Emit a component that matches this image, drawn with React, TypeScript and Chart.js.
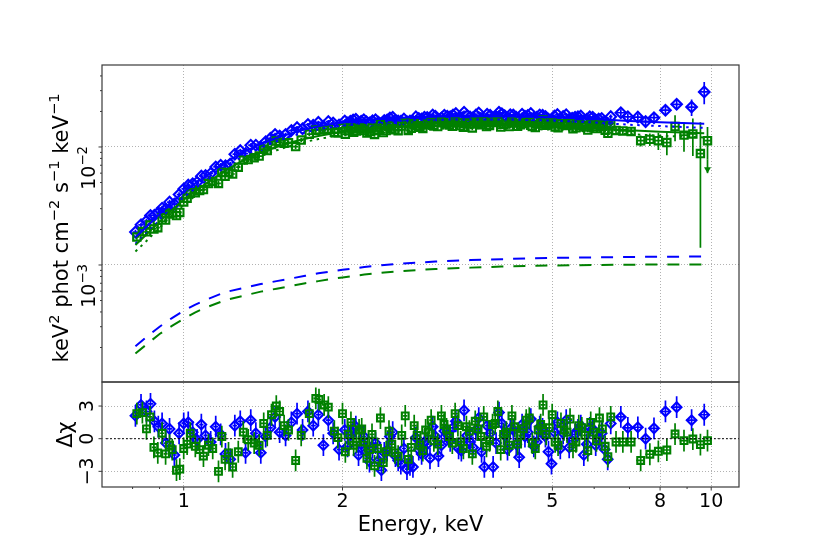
import React, { useEffect, useRef } from "react";
import { Chart, registerables } from "chart.js";

Chart.register(...registerables);

const FONT = '"DejaVu Sans", sans-serif';
const BLUE = "#0000ff";
const GREEN = "#008000";
const GRID = "rgba(170,170,170,0.9)";
const FRAME = "#3a3a3a";

// flux arrays are in units of 1e-3 keV^2 phot cm^-2 s^-1 keV^-1
const FLUX_UNIT = 1e-3;
// residuals are in sigma units, so every residual has an error of 1
const RESID_ERR = 1;

// axes
const xRange = [0.713, 11.29];
const fluxRange = [1.02e-4, 0.0495];
const residRange = [-4.44, 5.21];
const xMajor = [1, 2, 5, 8, 10];
const xMinor = [0.8, 0.9, 3, 4, 6, 7, 9];
const fluxMajor = [1e-3, 1e-2];
const fluxMinor = [
  2e-4, 3e-4, 4e-4, 5e-4, 6e-4, 7e-4, 8e-4, 9e-4,
  2e-3, 3e-3, 4e-3, 5e-3, 6e-3, 7e-3, 8e-3, 9e-3,
  2e-2, 3e-2, 4e-2,
];
const residMajor = [-3, 0, 3];
const fluxTickLabels = [
  { value: 1e-2, base: "10", exp: "\u22122" },
  { value: 1e-3, base: "10", exp: "\u22123" },
];
const residTickLabels = ["\u22123", "0", "3"];

// model curves
const modelEnergy = [0.81, 0.85, 0.9, 0.95, 1.0, 1.05, 1.1, 1.2, 1.3, 1.4, 1.5, 1.6, 1.7, 1.8, 1.9, 2.0, 2.2, 2.4, 2.7, 3.0, 3.5, 4.0, 5.0, 6.0, 7.0, 8.0, 9.7];
const blueTotal = [1.72, 2.1, 2.7, 3.4, 4.15, 4.9, 5.65, 7.4, 9.1, 10.6, 11.9, 13.1, 14.1, 15.0, 15.6, 16.1, 16.9, 17.4, 17.9, 18.1, 18.2, 18.25, 17.9, 17.3, 16.6, 16.2, 15.7];
const blueDotted = [1.515, 1.855, 2.4, 3.045, 3.74, 4.44, 5.145, 6.81, 8.46, 9.91, 11.17, 12.33, 13.29, 14.15, 14.72, 15.19, 15.94, 16.4, 16.86, 17.03, 17.1, 17.13, 16.75, 16.14, 15.43, 15.03, 14.52];
const blueDashed = [0.205, 0.245, 0.3, 0.355, 0.41, 0.46, 0.505, 0.59, 0.64, 0.69, 0.73, 0.77, 0.81, 0.85, 0.88, 0.91, 0.96, 1.0, 1.04, 1.07, 1.1, 1.12, 1.15, 1.16, 1.17, 1.175, 1.18];
const greenTotal = [1.48, 1.81, 2.33, 2.93, 3.58, 4.22, 4.87, 6.35, 7.75, 8.95, 10.0, 10.95, 11.75, 12.4, 12.95, 13.4, 14.05, 14.55, 15.0, 15.2, 15.35, 15.35, 15.0, 14.45, 13.85, 13.45, 13.05];
const greenDotted = [1.302, 1.598, 2.07, 2.625, 3.23, 3.825, 4.435, 5.845, 7.2, 8.355, 9.37, 10.285, 11.05, 11.67, 12.19, 12.615, 13.22, 13.685, 14.1, 14.275, 14.4, 14.38, 14.01, 13.45, 12.845, 12.44, 12.04];
const greenDashed = [0.178, 0.212, 0.26, 0.305, 0.35, 0.395, 0.435, 0.505, 0.55, 0.595, 0.63, 0.665, 0.7, 0.73, 0.76, 0.785, 0.83, 0.865, 0.9, 0.925, 0.95, 0.97, 0.99, 1.0, 1.005, 1.01, 1.01];

// blue spectrum (diamonds); last block holds the interleaved 2-6.5 keV bins
const blueEnergy = [
  0.81, 0.83, 0.85, 0.865, 0.88, 0.895, 0.91, 0.925, 0.94, 0.96,
  0.98, 1.0, 1.02, 1.04, 1.06, 1.08, 1.1, 1.125, 1.15, 1.175,
  1.2, 1.225, 1.25, 1.28, 1.31, 1.34, 1.37, 1.4, 1.43, 1.46,
  1.49, 1.52, 1.56, 1.6, 1.64, 1.68, 1.72, 1.76, 1.8, 1.84,
  1.88, 1.92, 1.97, 2.02, 2.07, 2.12, 2.17, 2.22, 2.28, 2.34,
  2.4, 2.46, 2.52, 2.58, 2.65, 2.72, 2.79, 2.86, 2.93, 3.0,
  3.08, 3.16, 3.24, 3.32, 3.4, 3.49, 3.58, 3.67, 3.76, 3.86,
  3.96, 4.06, 4.16, 4.27, 4.38, 4.49, 4.61, 4.73, 4.85, 4.98,
  5.11, 5.24, 5.38, 5.52, 5.66, 5.81, 5.96, 6.12, 6.28, 6.45,
  6.74, 6.95, 7.26, 7.51, 7.79, 8.19, 8.6, 9.18, 9.7,
  2.045, 2.095, 2.145, 2.195, 2.25, 2.31, 2.37, 2.43, 2.49, 2.55,
  2.615, 2.685, 2.755, 2.825, 2.895, 2.965, 3.04, 3.12, 3.2, 3.28,
  3.36, 3.445, 3.535, 3.625, 3.715, 3.81, 3.91, 4.01, 4.11, 4.215,
  4.325, 4.435, 4.55, 4.67, 4.79, 4.915, 5.045, 5.175, 5.31, 5.45,
  5.59, 5.735, 5.885, 6.04, 6.2, 6.365,
];
const blueFlux = [
  1.9, 2.19, 2.36, 2.63, 2.64, 2.77, 3.03, 2.98, 3.41, 3.28,
  3.95, 4.41, 4.75, 4.88, 5.03, 5.66, 5.73, 5.97, 6.77, 6.99,
  6.94, 7.16, 8.69, 9.31, 8.78, 10.36, 10.36, 10.05, 11.06, 11.82,
  12.74, 12.38, 12.75, 13.79, 14.58, 14.29, 15.51, 15.28, 16.15, 14.95,
  16.4, 15.94, 15.38, 16.59, 16.54, 17.15, 16.54, 16.34, 16.7, 16.2,
  16.73, 17.6, 16.78, 16.47, 16.32, 16.51, 17.43, 17.84, 17.09, 18.23,
  17.57, 18.22, 18.63, 17.46, 19.7, 17.91, 18.61, 17.36, 18.9, 16.51,
  19.71, 18.39, 18.75, 17.83, 18.94, 18.46, 17.61, 18.69, 18.08, 16.46,
  18.79, 18.09, 17.2, 17.85, 18.29, 17.14, 17.88, 17.28, 16.33, 18.07,
  19.5, 18.0, 17.9, 16.4, 17.7, 20.5, 23.0, 21.8, 29.3,
  15.96, 16.95, 15.95, 17.0, 15.96, 16.97, 15.82, 16.9, 17.87, 16.59,
  17.27, 16.58, 17.99, 17.23, 17.77, 18.68, 17.1, 18.56, 18.01, 19.17,
  17.47, 18.38, 17.69, 19.42, 16.56, 18.55, 17.98, 19.14, 17.57, 18.68,
  17.05, 18.22, 19.19, 17.81, 18.53, 17.17, 18.25, 17.24, 18.77, 17.51,
  18.04, 16.54, 17.98, 16.91, 17.46, 15.91,
];
const blueFluxErr = [
  0.086, 0.095, 0.105, 0.114, 0.122, 0.13, 0.14, 0.15, 0.16, 0.18,
  0.19, 0.19, 0.2, 0.21, 0.23, 0.24, 0.25, 0.27, 0.29, 0.31,
  0.33, 0.35, 0.36, 0.34, 0.36, 0.37, 0.39, 0.41, 0.42, 0.44,
  0.45, 0.41, 0.42, 0.44, 0.45, 0.47, 0.48, 0.49, 0.5, 0.51,
  0.52, 0.53, 0.54, 0.47, 0.48, 0.48, 0.49, 0.49, 0.5, 0.5,
  0.51, 0.51, 0.52, 0.52, 0.53, 0.53, 0.53, 0.53, 0.54, 0.63,
  0.63, 0.63, 0.63, 0.63, 0.63, 0.63, 0.63, 0.63, 0.63, 0.63,
  0.64, 0.64, 0.64, 0.63, 0.63, 0.63, 0.63, 0.63, 0.63, 0.63,
  0.62, 0.62, 0.62, 0.62, 0.61, 0.61, 0.61, 0.77, 0.77, 0.77,
  1.34, 1.33, 1.32, 1.48, 1.47, 1.77, 2.4, 3.5, 6.3,
  0.49, 0.5, 0.5, 0.51, 0.51, 0.52, 0.52, 0.52, 0.53, 0.53,
  0.53, 0.54, 0.54, 0.54, 0.54, 0.54, 0.63, 0.63, 0.63, 0.63,
  0.64, 0.64, 0.64, 0.64, 0.64, 0.64, 0.64, 0.64, 0.64, 0.64,
  0.63, 0.63, 0.63, 0.63, 0.63, 0.63, 0.63, 0.62, 0.62, 0.62,
  0.61, 0.61, 0.61, 0.6, 0.6, 0.6,
];
const blueBinHalf = [
  0.01, 0.01, 0.01, 0.01, 0.01, 0.01, 0.01, 0.01, 0.01, 0.01,
  0.01, 0.01, 0.01, 0.01, 0.01, 0.01, 0.01, 0.0125, 0.0125, 0.0125,
  0.0125, 0.0125, 0.0125, 0.015, 0.015, 0.015, 0.015, 0.015, 0.015, 0.015,
  0.015, 0.02, 0.02, 0.02, 0.02, 0.02, 0.02, 0.02, 0.02, 0.02,
  0.02, 0.02, 0.02, 0.025, 0.025, 0.025, 0.025, 0.025, 0.025, 0.025,
  0.025, 0.025, 0.025, 0.025, 0.025, 0.025, 0.025, 0.025, 0.025, 0.035,
  0.035, 0.035, 0.035, 0.035, 0.035, 0.035, 0.035, 0.035, 0.035, 0.035,
  0.035, 0.05, 0.05, 0.05, 0.05, 0.05, 0.05, 0.05, 0.05, 0.05,
  0.05, 0.05, 0.05, 0.05, 0.05, 0.05, 0.05, 0.05, 0.05, 0.05,
  0.14, 0.12, 0.14, 0.13, 0.15, 0.18, 0.2, 0.21, 0.23,
  0.025, 0.025, 0.025, 0.025, 0.025, 0.025, 0.025, 0.025, 0.025, 0.025,
  0.025, 0.025, 0.025, 0.025, 0.025, 0.025, 0.035, 0.035, 0.035, 0.035,
  0.035, 0.035, 0.035, 0.035, 0.035, 0.035, 0.035, 0.05, 0.05, 0.05,
  0.05, 0.05, 0.05, 0.05, 0.05, 0.05, 0.05, 0.05, 0.05, 0.05,
  0.05, 0.05, 0.05, 0.05, 0.05, 0.05,
];
const blueResid = [
  2.1, 3.1, 2.5, 3.2, 1.6, 1.1, 1.4, -0.4, 0.9, -1.5,
  0.5, 1.4, 1.5, 0.6, -0.1, 1.3, 0.3, -0.3, 1.1, 0.4,
  -1.4, -1.9, 1.2, 1.6, -1.3, 1.7, 0.5, -1.3, 0.2, 1.0,
  2.0, 0.6, 0.3, 1.5, 2.3, 0.8, 2.5, 1.2, 2.2, -0.6,
  1.7, 0.5, -1.0, 0.8, 0.3, 1.1, -0.5, -1.2, -0.8, -2.0,
  -1.3, 0.2, -1.6, -2.3, -2.8, -2.6, -1.0, -0.3, -1.8, 0.2,
  -0.6, 0.4, 1.0, -0.9, 2.6, -0.3, 0.8, -1.2, 1.2, -2.6,
  2.4, 0.3, 0.9, -0.5, 1.3, 0.6, -0.7, 1.1, 0.2, -2.3,
  1.5, 0.5, -0.8, 0.4, 1.2, -0.5, 0.9, 0.1, -1.0, 1.4,
  2.0, 1.0, 1.05, 0.0, 0.95, 2.5, 2.9, 1.7, 2.2,
  -0.7, 0.9, -1.5, 0.2, -2.1, -0.4, -2.9, -1.1, 0.6, -2.0,
  -0.9, -2.4, 0.1, -1.4, -0.5, 1.1, -1.6, 0.7, -0.2, 1.6,
  -1.1, 0.3, -0.8, 1.9, -2.6, 0.5, -0.4, 1.4, -1.0, 0.8,
  -1.7, 0.2, 1.8, -0.3, 0.9, -1.2, 0.6, -0.9, 1.7, -0.2,
  0.8, -1.5, 1.0, -0.6, 0.5, -1.9,
];

// green spectrum (squares); last block holds the interleaved 2-6.4 keV bins
const greenEnergy = [
  0.815, 0.835, 0.85, 0.863, 0.878, 0.893, 0.91, 0.924, 0.94, 0.951,
  0.969, 0.983, 1.0, 1.015, 1.029, 1.052, 1.072, 1.09, 1.114, 1.135,
  1.164, 1.181, 1.198, 1.216, 1.238, 1.269, 1.297, 1.325, 1.36, 1.39,
  1.418, 1.44, 1.467, 1.498, 1.52, 1.55, 1.58, 1.63, 1.67, 1.73,
  1.78, 1.805, 1.846, 1.88, 1.93, 1.96, 2.0, 2.05, 2.1, 2.15,
  2.2, 2.25, 2.3, 2.36, 2.42, 2.48, 2.55, 2.63, 2.7, 2.77,
  2.84, 2.91, 2.98, 3.08, 3.15, 3.23, 3.31, 3.39, 3.48, 3.57,
  3.66, 3.75, 3.85, 3.94, 4.04, 4.14, 4.24, 4.35, 4.46, 4.58,
  4.7, 4.8, 4.93, 5.06, 5.19, 5.33, 5.47, 5.61, 5.76, 5.91,
  6.06, 6.22, 6.37, 6.45, 6.6, 6.8, 7.05, 7.35, 7.65, 7.94,
  8.24, 8.54, 8.88, 9.23, 9.54, 9.84,
  2.025, 2.075, 2.125, 2.175, 2.225, 2.275, 2.33, 2.39, 2.45, 2.515,
  2.59, 2.665, 2.735, 2.805, 2.875, 2.945, 3.03, 3.115, 3.19, 3.27,
  3.35, 3.435, 3.525, 3.615, 3.705, 3.8, 3.895, 3.99, 4.09, 4.19,
  4.295, 4.405, 4.52, 4.64, 4.75, 4.865, 4.995, 5.125, 5.26, 5.4,
  5.54, 5.685, 5.835, 5.985, 6.14, 6.295,
];
const greenFlux = [
  1.73, 1.92, 1.91, 2.18, 2.02, 2.07, 2.51, 2.4, 2.7, 2.76,
  2.62, 2.79, 3.42, 3.68, 4.05, 4.1, 4.28, 4.35, 4.9, 5.11,
  4.91, 6.08, 5.66, 6.08, 5.9, 6.74, 7.74, 7.81, 8.11, 8.37,
  9.58, 9.32, 10.49, 11.22, 10.98, 10.74, 10.84, 10.07, 11.44, 12.83,
  13.87, 13.99, 14.03, 14.15, 13.31, 13.15, 14.52, 13.7, 13.3, 14.24,
  13.78, 13.52, 12.78, 15.44, 13.79, 14.29, 13.74, 16.02, 14.42, 15.13,
  14.36, 15.44, 15.02, 16.46, 15.75, 14.98, 15.97, 14.71, 15.73, 16.28,
  15.42, 14.87, 16.1, 16.83, 15.54, 14.91, 15.93, 15.42, 16.24, 14.94,
  15.62, 16.97, 15.63, 14.79, 15.73, 15.18, 14.27, 15.36, 14.75, 15.37,
  14.3, 14.97, 13.07, 15.62, 13.8, 13.68, 13.54, 11.3, 11.6, 11.3,
  10.9, 14.9, 12.6, 12.9, 8.8, 11.3,
  12.84, 14.48, 13.65, 14.48, 13.1, 14.47, 13.86, 13.25, 15.04, 13.96,
  15.02, 13.81, 15.75, 14.71, 15.6, 16.2, 14.91, 16.03, 15.38, 16.69,
  15.12, 16.0, 14.49, 15.9, 16.58, 15.23, 16.21, 14.74, 15.69, 16.57,
  14.95, 15.77, 16.33, 14.59, 15.87, 15.29, 16.32, 14.57, 15.34, 15.84,
  14.53, 15.22, 13.9, 14.81, 15.46, 13.88,
];
const greenFluxErr = [
  0.091, 0.1, 0.11, 0.117, 0.127, 0.135, 0.146, 0.157, 0.168, 0.176,
  0.19, 0.2, 0.18, 0.19, 0.2, 0.21, 0.225, 0.24, 0.25, 0.27,
  0.29, 0.3, 0.31, 0.33, 0.34, 0.36, 0.38, 0.39, 0.41, 0.43,
  0.45, 0.46, 0.47, 0.49, 0.4, 0.41, 0.42, 0.44, 0.45, 0.47,
  0.48, 0.49, 0.5, 0.51, 0.52, 0.52, 0.53, 0.54, 0.55, 0.55,
  0.56, 0.56, 0.57, 0.57, 0.58, 0.58, 0.59, 0.59, 0.6, 0.6,
  0.6, 0.6, 0.61, 0.61, 0.61, 0.61, 0.61, 0.61, 0.61, 0.61,
  0.61, 0.61, 0.61, 0.61, 0.61, 0.61, 0.61, 0.61, 0.61, 0.61,
  0.61, 0.6, 0.6, 0.6, 0.6, 0.59, 0.59, 0.59, 0.58, 0.58,
  0.58, 0.72, 0.71, 0.71, 0.99, 0.98, 0.97, 1.22, 1.4, 1.87,
  2.4, 3.7, 3.5, 4.5, 7.4, 3.5,
  0.54, 0.55, 0.55, 0.56, 0.56, 0.57, 0.58, 0.58, 0.59, 0.59,
  0.59, 0.6, 0.6, 0.6, 0.6, 0.61, 0.61, 0.61, 0.61, 0.61,
  0.61, 0.61, 0.61, 0.61, 0.61, 0.61, 0.61, 0.61, 0.61, 0.61,
  0.61, 0.61, 0.61, 0.61, 0.6, 0.6, 0.6, 0.6, 0.59, 0.59,
  0.59, 0.59, 0.58, 0.58, 0.57, 0.57,
];
const greenBinHalf = [
  0.008, 0.008, 0.008, 0.008, 0.008, 0.008, 0.008, 0.008, 0.008, 0.008,
  0.008, 0.008, 0.012, 0.012, 0.012, 0.012, 0.012, 0.012, 0.012, 0.012,
  0.012, 0.012, 0.012, 0.012, 0.012, 0.012, 0.012, 0.012, 0.018, 0.018,
  0.018, 0.018, 0.018, 0.018, 0.018, 0.018, 0.018, 0.018, 0.018, 0.018,
  0.018, 0.018, 0.018, 0.018, 0.025, 0.025, 0.025, 0.025, 0.025, 0.025,
  0.025, 0.025, 0.025, 0.025, 0.025, 0.025, 0.025, 0.025, 0.025, 0.025,
  0.025, 0.025, 0.025, 0.04, 0.04, 0.04, 0.04, 0.04, 0.04, 0.04,
  0.04, 0.04, 0.04, 0.04, 0.04, 0.04, 0.04, 0.04, 0.04, 0.04,
  0.04, 0.05, 0.05, 0.05, 0.05, 0.05, 0.05, 0.05, 0.05, 0.05,
  0.05, 0.05, 0.05, 0.06, 0.08, 0.1, 0.12, 0.14, 0.15, 0.14,
  0.15, 0.15, 0.17, 0.17, 0.14, 0.14,
  0.025, 0.025, 0.025, 0.025, 0.025, 0.025, 0.025, 0.025, 0.025, 0.025,
  0.025, 0.025, 0.025, 0.025, 0.025, 0.025, 0.04, 0.04, 0.04, 0.04,
  0.04, 0.04, 0.04, 0.04, 0.04, 0.04, 0.04, 0.04, 0.05, 0.05,
  0.05, 0.05, 0.05, 0.05, 0.05, 0.05, 0.05, 0.05, 0.05, 0.05,
  0.05, 0.05, 0.05, 0.05, 0.05, 0.05,
];
const greenResid = [
  2.3, 2.4, 0.9, 2.0, -0.8, -1.3, 0.5, -1.4, -0.6, -1.0,
  -2.9, -2.8, -0.9, -0.5, 0.5, -0.7, -1.0, -1.6, -0.6, -0.9,
  -3.0, 0.2, -1.9, -1.3, -2.6, -1.2, 0.6, -0.1, -0.4, -0.6,
  1.4, 0.3, 2.2, 3.0, 2.5, 1.2, 0.8, -2.0, 0.3, 2.3,
  3.7, 3.6, 3.1, 2.9, 0.7, 0.1, 2.3, 0.4, -0.6, 0.8,
  -0.3, -1.0, -2.5, 1.9, -1.2, -0.5, -1.6, 2.1, -0.8, 0.3,
  -1.1, 0.6, -0.2, 2.1, 0.9, -0.4, 1.2, -0.9, 0.7, 1.6,
  0.2, -0.7, 1.3, 2.5, 0.4, -0.6, 1.1, 0.3, 1.7, -0.4,
  0.8, 3.1, 1.0, -0.3, 1.4, 0.6, -0.8, 1.2, 0.3, 1.5,
  -0.2, 0.9, -1.65, 2.0, -0.3, -0.3, -0.3, -2.0, -1.43, -1.16,
  -1.04, 0.43, -0.18, -0.03, -0.55, -0.18,
  -1.2, 1.5, -0.3, 0.9, -1.8, 0.4, -0.9, -2.2, 0.7, -1.3,
  0.3, -1.9, 1.2, -0.6, 0.8, 1.7, -0.5, 1.3, 0.2, 2.3,
  -0.3, 1.1, -1.4, 0.9, 2.0, -0.2, 1.4, -1.0, 0.6, 2.1,
  -0.5, 0.9, 1.9, -0.9, 1.3, 0.4, 2.2, -0.6, 0.8, 1.8,
  -0.3, 1.0, -1.1, 0.6, 1.9, -0.7,
];
// green upper-limit bin, drawn with an arrow down to this flux
const greenLimitEnergy = 9.84;
const greenLimitTo = 6.0;

type Piece = { t: string; sup?: boolean };

function drawPieces(
  ctx: CanvasRenderingContext2D,
  pieces: Piece[],
  x: number,
  y: number,
  size: number,
  align: "start" | "center" | "end",
  vertical: boolean
) {
  const supSize = size * 0.7;
  const widths = pieces.map((p) => {
    ctx.font = `${p.sup ? supSize : size}px ${FONT}`;
    return ctx.measureText(p.t).width;
  });
  const total = widths.reduce((a, b) => a + b, 0);
  ctx.save();
  ctx.translate(x, y);
  if (vertical) ctx.rotate(-Math.PI / 2);
  ctx.fillStyle = "#000";
  ctx.textAlign = "left";
  ctx.textBaseline = "alphabetic";
  let u = align === "center" ? -total / 2 : align === "end" ? -total : 0;
  const base = size * 0.36;
  pieces.forEach((p, i) => {
    ctx.font = `${p.sup ? supSize : size}px ${FONT}`;
    ctx.fillText(p.t, u, p.sup ? base - size * 0.42 : base);
    u += widths[i];
  });
  ctx.restore();
}

const panelPlugin = {
  id: "panels",
  beforeDatasetDraw(chart: any, args: any) {
    const ds = chart.data.datasets[args.index];
    if (!ds.errors) return;
    const ctx: CanvasRenderingContext2D = chart.ctx;
    const xs = chart.scales.x;
    const ys = chart.scales[ds.yAxisID];
    const area = chart.chartArea;
    ctx.save();
    ctx.beginPath();
    ctx.rect(area.left, ys.top, area.right - area.left, ys.bottom - ys.top);
    ctx.clip();
    ctx.strokeStyle = ds.borderColor;
    ctx.fillStyle = ds.borderColor;
    ctx.lineWidth = 1.7;
    ds.data.forEach((p: any, i: number) => {
      const e = ds.errors[i];
      const px = xs.getPixelForValue(p.x);
      const py = ys.getPixelForValue(p.y);
      const lo = p.y - e.dy;
      const y0 = ys.getPixelForValue(lo > 0 || ys.type !== "logarithmic" ? lo : ys.min);
      const y1 = ys.getPixelForValue(p.y + e.dy);
      ctx.beginPath();
      ctx.moveTo(xs.getPixelForValue(p.x - e.dx), py);
      ctx.lineTo(xs.getPixelForValue(p.x + e.dx), py);
      ctx.moveTo(px, y0);
      ctx.lineTo(px, y1);
      ctx.stroke();
    });
    if (ds.limit) {
      const px = xs.getPixelForValue(ds.limit.x);
      const pTop = ys.getPixelForValue(ds.limit.from);
      const pEnd = ys.getPixelForValue(ds.limit.to);
      ctx.beginPath();
      ctx.moveTo(px, pTop);
      ctx.lineTo(px, pEnd);
      ctx.stroke();
      ctx.beginPath();
      ctx.moveTo(px - 3.5, pEnd - 6);
      ctx.lineTo(px + 3.5, pEnd - 6);
      ctx.lineTo(px, pEnd);
      ctx.closePath();
      ctx.fill();
    }
    ctx.restore();
  },
  afterDraw(chart: any) {
    const ctx: CanvasRenderingContext2D = chart.ctx;
    const area = chart.chartArea;
    const xs = chart.scales.x;
    const yf = chart.scales.y;
    const yr = chart.scales.y2;
    ctx.save();
    // panel frames
    ctx.strokeStyle = FRAME;
    ctx.lineWidth = 1.2;
    [yf, yr].forEach((s) => {
      ctx.strokeRect(area.left, s.top, area.right - area.left, s.bottom - s.top);
    });
    // tick marks
    ctx.lineWidth = 1;
    ctx.beginPath();
    xs.ticks.forEach((t: any) => {
      const px = xs.getPixelForValue(t.value);
      ctx.moveTo(px, yr.bottom);
      ctx.lineTo(px, yr.bottom + (t.major ? 3.5 : 2));
    });
    [yf, yr].forEach((s) => {
      s.ticks.forEach((t: any) => {
        const py = s.getPixelForValue(t.value);
        ctx.moveTo(area.left, py);
        ctx.lineTo(area.left - (t.major ? 3.5 : 2), py);
      });
    });
    ctx.stroke();
    ctx.restore();

    // tick labels
    xMajor.forEach((v) => {
      drawPieces(ctx, [{ t: String(v) }], xs.getPixelForValue(v), yr.bottom + 13.5, 19, "center", false);
    });
    fluxTickLabels.forEach((l) => {
      drawPieces(
        ctx,
        [{ t: l.base }, { t: l.exp, sup: true }],
        88,
        yf.getPixelForValue(l.value) - 1,
        19,
        "end",
        true
      );
    });
    residMajor.forEach((v, i) => {
      drawPieces(ctx, [{ t: residTickLabels[i] }], 86, yr.getPixelForValue(v), 19, "center", true);
    });

    // axis titles
    drawPieces(ctx, [{ t: "Energy, keV" }], (area.left + area.right) / 2, yr.bottom + 36.5, 21, "center", false);
    drawPieces(
      ctx,
      [
        { t: "keV" },
        { t: "2", sup: true },
        { t: " phot cm" },
        { t: "\u22122", sup: true },
        { t: " s" },
        { t: "\u22121", sup: true },
        { t: " keV" },
        { t: "\u22121", sup: true },
      ],
      60,
      228,
      21,
      "center",
      true
    );
    drawPieces(ctx, [{ t: "\u0394\u03c7" }], 64, (yr.top + yr.bottom) / 2, 21, "center", true);
  },
};

const fluxPoint = (e: number, i: number, flux: number[]) => ({ x: e, y: flux[i] * FLUX_UNIT });
const modelLine = (values: number[]) => modelEnergy.map((e, i) => ({ x: e, y: values[i] * FLUX_UNIT }));

const App: React.FC = () => {
  const canvasRef = useRef<HTMLCanvasElement>(null);
  const chartRef = useRef<Chart | null>(null);

  useEffect(() => {
    if (!canvasRef.current) return;
    if (chartRef.current) chartRef.current.destroy();

    const line = (data: any[], color: string, dash: number[]) => ({
      type: "scatter" as const,
      data,
      yAxisID: "y",
      showLine: true,
      borderColor: color,
      borderWidth: 2,
      borderDash: dash,
      pointRadius: 0,
      fill: false,
      tension: 0,
    });

    const points = (
      data: any[],
      errors: any[],
      axis: string,
      color: string,
      style: "rectRot" | "rect",
      radius: number,
      extra: any = {}
    ) => ({
      type: "scatter" as const,
      data,
      errors,
      yAxisID: axis,
      borderColor: color,
      backgroundColor: "rgba(0,0,0,0)",
      pointStyle: style,
      pointRadius: radius,
      pointBorderWidth: 2.1,
      pointBorderColor: color,
      pointBackgroundColor: "rgba(0,0,0,0)",
      showLine: false,
      ...extra,
    });

    const greenLimitIndex = greenEnergy.indexOf(greenLimitEnergy);

    const datasets: any[] = [
      {
        type: "scatter",
        data: [
          { x: xRange[0], y: 0 },
          { x: xRange[1], y: 0 },
        ],
        yAxisID: "y2",
        showLine: true,
        borderColor: "#000",
        borderWidth: 1.3,
        borderDash: [1.5, 2.5],
        pointRadius: 0,
      },
      line(modelLine(greenTotal), GREEN, []),
      line(modelLine(greenDotted), GREEN, [2.5, 4.5]),
      line(modelLine(greenDashed), GREEN, [12, 10]),
      line(modelLine(blueTotal), BLUE, []),
      line(modelLine(blueDotted), BLUE, [2.5, 4.5]),
      line(modelLine(blueDashed), BLUE, [12, 10]),
      points(
        greenEnergy.map((e, i) => ({ x: e, y: greenResid[i] })),
        greenEnergy.map((_, i) => ({ dx: greenBinHalf[i], dy: RESID_ERR })),
        "y2",
        GREEN,
        "rect",
        4.8
      ),
      points(
        greenEnergy.map((e, i) => fluxPoint(e, i, greenFlux)),
        greenEnergy.map((_, i) => ({ dx: greenBinHalf[i], dy: greenFluxErr[i] * FLUX_UNIT })),
        "y",
        GREEN,
        "rect",
        5.2,
        {
          limit: {
            x: greenLimitEnergy,
            from: (greenFlux[greenLimitIndex] - greenFluxErr[greenLimitIndex]) * FLUX_UNIT,
            to: greenLimitTo * FLUX_UNIT,
          },
        }
      ),
      points(
        blueEnergy.map((e, i) => ({ x: e, y: blueResid[i] })),
        blueEnergy.map((_, i) => ({ dx: blueBinHalf[i], dy: RESID_ERR })),
        "y2",
        BLUE,
        "rectRot",
        4.8
      ),
      points(
        blueEnergy.map((e, i) => fluxPoint(e, i, blueFlux)),
        blueEnergy.map((_, i) => ({ dx: blueBinHalf[i], dy: blueFluxErr[i] * FLUX_UNIT })),
        "y",
        BLUE,
        "rectRot",
        5.3
      ),
    ];

    const gridColor = (c: any) => (c.tick && c.tick.major ? GRID : "rgba(0,0,0,0)");

    chartRef.current = new Chart(canvasRef.current, {
      type: "scatter",
      data: { datasets },
      plugins: [panelPlugin],
      options: {
        animation: false,
        responsive: false,
        events: [],
        layout: { padding: { left: 102, top: 65, right: 83, bottom: 61 } },
        plugins: {
          legend: { display: false },
          tooltip: { enabled: false },
        },
        scales: {
          x: {
            type: "logarithmic",
            position: "bottom",
            min: xRange[0],
            max: xRange[1],
            afterBuildTicks: (scale: any) => {
              scale.ticks = [
                ...xMajor.map((v) => ({ value: v, major: true })),
                ...xMinor.map((v) => ({ value: v, major: false })),
              ];
            },
            ticks: { display: false },
            grid: { color: gridColor, lineWidth: 1, drawTicks: false },
            border: { display: false, dash: [1, 2] },
          },
          // stacked scales are placed bottom-up: residual panel first
          y2: {
            type: "linear",
            position: "left",
            stack: "panels",
            stackWeight: 105,
            min: residRange[0],
            max: residRange[1],
            afterBuildTicks: (scale: any) => {
              scale.ticks = residMajor.map((v) => ({ value: v, major: true }));
            },
            ticks: { display: false },
            grid: { color: gridColor, lineWidth: 1, drawTicks: false },
            border: { display: false, dash: [1, 2] },
          },
          y: {
            type: "logarithmic",
            position: "left",
            stack: "panels",
            stackWeight: 317,
            min: fluxRange[0],
            max: fluxRange[1],
            afterBuildTicks: (scale: any) => {
              scale.ticks = [
                ...fluxMajor.map((v) => ({ value: v, major: true })),
                ...fluxMinor.map((v) => ({ value: v, major: false })),
              ];
            },
            ticks: { display: false },
            grid: { color: gridColor, lineWidth: 1, drawTicks: false },
            border: { display: false, dash: [1, 2] },
          },
        },
      } as any,
    });

    return () => {
      if (chartRef.current) {
        chartRef.current.destroy();
        chartRef.current = null;
      }
    };
  }, []);

  return (
    <div style={{ position: "fixed", left: 0, top: 0, width: 822, height: 548, background: "#fff" }}>
      <canvas ref={canvasRef} width={822} height={548} />
    </div>
  );
};

export default App;
